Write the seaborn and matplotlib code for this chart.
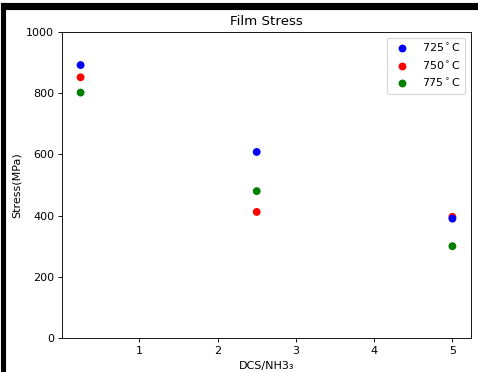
import matplotlib
matplotlib.use("Agg")
import matplotlib.pyplot as plt
import matplotlib.patches as mpatches
import pandas as pd
import seaborn as sns

# --- data ---
ratio = [0.25, 2.5, 5]
stress_725 = [892, 608, 390]
stress_750 = [852, 412, 396]
stress_775 = [802, 480, 300]
temps = ['725$^\\circ$C', '750$^\\circ$C', '775$^\\circ$C']
colors = ['blue', 'red', 'green']

# rows ordered so the 725 points end up drawn on top
df = pd.DataFrame({
    'ratio': ratio * 3,
    'stress': stress_775 + stress_750 + stress_725,
    'temp': [t for t in temps[::-1] for _ in ratio],
})

fig = plt.figure(figsize=(478 / 80, 372 / 80), dpi=80)
ax = fig.add_axes([62 / 478, 1 - 338 / 372, 409 / 478, 306 / 372])

sns.scatterplot(data=df, x='ratio', y='stress', hue='temp', hue_order=temps,
                palette=colors, s=50, linewidth=0, ax=ax)

ax.set_ylim(0, 1000)
ax.set_xticks([1, 2, 3, 4, 5])
ax.set_title('Film Stress')
ax.set_xlabel('DCS/NH3\u2083', labelpad=5)
ax.set_ylabel('Stress(MPa)')
ax.legend(loc='upper right')

# black frame left and top of the screenshot
fig.patches.append(mpatches.Rectangle((1 / 478, 1 - 9 / 372), 1, 6 / 372,
                                      transform=fig.transFigure, color='black'))
fig.patches.append(mpatches.Rectangle((1 / 478, 0), 4 / 478, 1 - 3 / 372,
                                      transform=fig.transFigure, color='black'))

fig.savefig('out.png', dpi=80)
